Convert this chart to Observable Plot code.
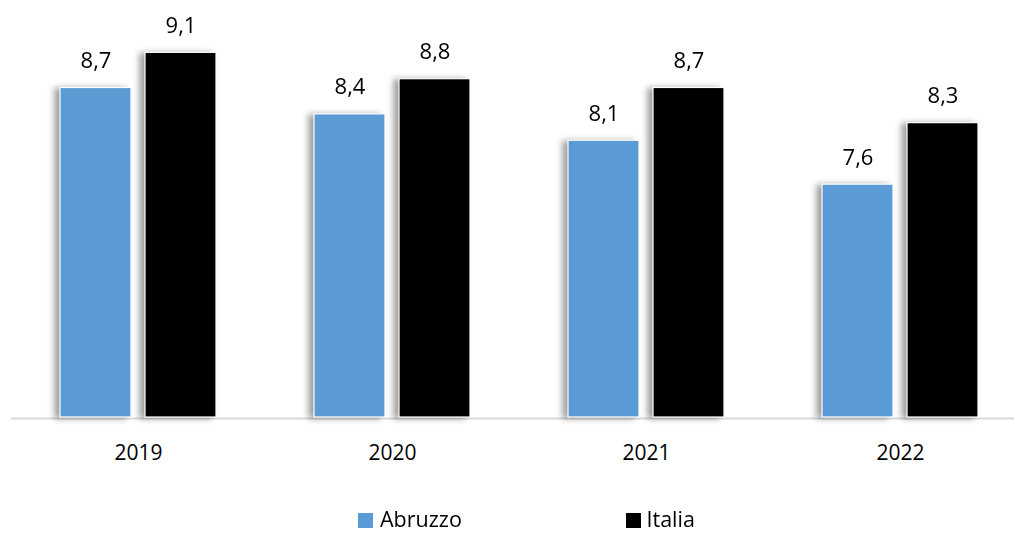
<!DOCTYPE html>
<html>
<head>
<meta charset="utf-8">
<script src="https://cdn.jsdelivr.net/npm/d3@7"></script>
<script src="https://cdn.jsdelivr.net/npm/@observablehq/plot@0.6"></script>
<style>
  html, body { margin: 0; padding: 0; background: #fff; }
  body { width: 1014px; height: 534px; position: relative; overflow: hidden; font-family: "Open Sans", "Noto Sans", sans-serif; }
  #chart { position: absolute; left: 0; top: 0; }
  #legend { position: absolute; left: 0; top: 0; width: 1014px; height: 534px; font-size: 21.5px; line-height: 18px; color: #000; pointer-events: none; }
  .sw { position: absolute; width: 15px; height: 15px; top: 512.5px; }
  .lt { position: absolute; top: 509.8px; white-space: nowrap; }
  svg g[aria-label="bar"] { filter: drop-shadow(-5px 1px 3px rgba(0,0,0,0.38)); }
</style>
</head>
<body>
<div id="chart"></div>
<div id="legend"></div>
<script>
const years = ["2019", "2020", "2021", "2022"];
const series = ["Abruzzo", "Italia"];
const abruzzo = [8.7, 8.4, 8.1, 7.6];
const italia = [9.1, 8.8, 8.7, 8.3];
const colors = ["#5b9bd5", "#000000"];

const data = years.flatMap((y, i) => [
  {year: y, series: "Abruzzo", value: abruzzo[i]},
  {year: y, series: "Italia", value: italia[i]}
]);

const fmt = v => v.toFixed(1).replace(".", ",");
const yMin = 4.95;

const chart = Plot.plot({
  width: 1014,
  height: 480,
  marginLeft: 10,
  marginRight: 0,
  marginTop: 8.4,
  marginBottom: 63,
  style: {fontFamily: "'Open Sans', 'Noto Sans', sans-serif", fontSize: "21px", color: "#000", background: "#fff", overflow: "visible"},
  fx: {domain: years, padding: 0, range: [9.75, 1027.75], label: null, axis: "bottom", tickSize: 0, tickPadding: 28},
  x: {domain: series, paddingInner: 0.166, paddingOuter: 0.563, axis: null},
  y: {domain: [yMin, 9.6], axis: null},
  color: {domain: series, range: colors},
  marks: [
    Plot.ruleY([yMin], {stroke: "#d9d9d9", strokeWidth: 2, dy: 1}),
    Plot.barY(data, {fx: "year", x: "series", y1: yMin, y2: "value", fill: "series", stroke: "#fff", strokeWidth: 1.2}),
    Plot.text(data, {fx: "year", x: "series", y: "value", text: d => fmt(d.value), lineAnchor: "bottom", dy: -20, fontSize: 22, fill: "#000"})
  ]
});
document.getElementById("chart").appendChild(chart);

const legend = document.getElementById("legend");
const swLefts = [358.3, 626];
const txtLefts = [380, 646.5];
series.forEach((s, i) => {
  const sw = document.createElement("div");
  sw.className = "sw";
  sw.style.left = swLefts[i] + "px";
  sw.style.background = colors[i];
  const t = document.createElement("div");
  t.className = "lt";
  t.style.left = txtLefts[i] + "px";
  t.textContent = s;
  legend.appendChild(sw);
  legend.appendChild(t);
});
</script>
</body>
</html>
